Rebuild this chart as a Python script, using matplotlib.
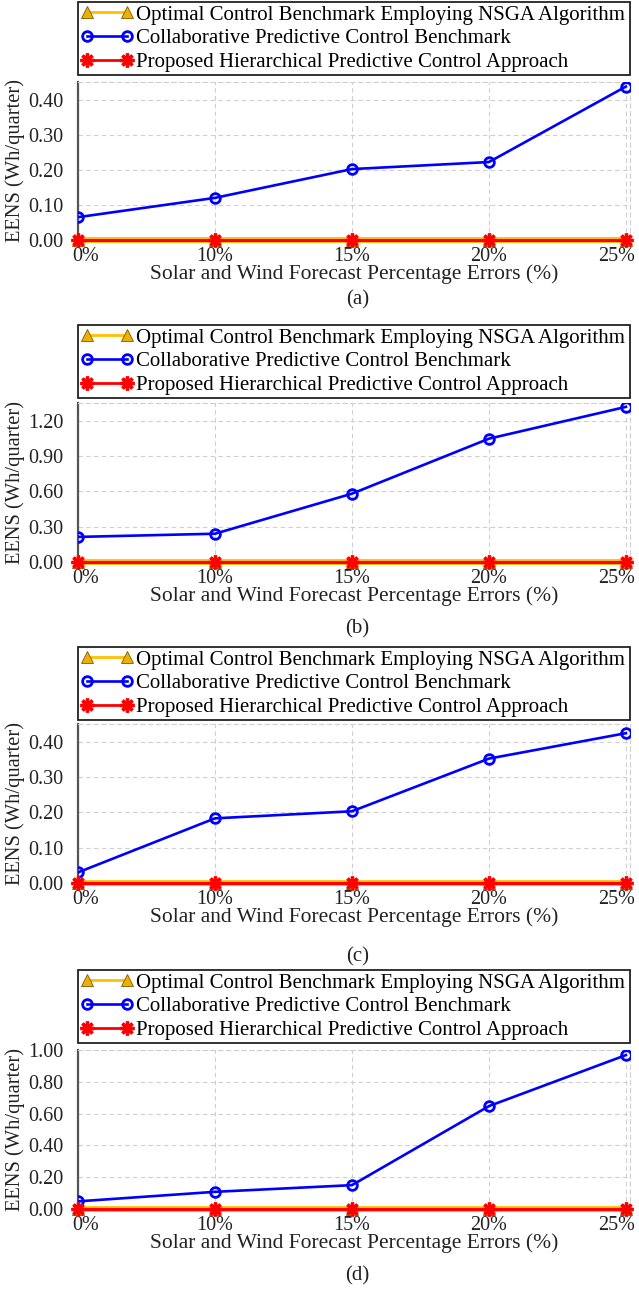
import matplotlib
matplotlib.use('Agg')
import matplotlib.pyplot as plt
import matplotlib.transforms as mtransforms
import numpy as np

plt.rcParams['font.family'] = ['Liberation Serif', 'DejaVu Serif']
plt.rcParams['mathtext.fontset'] = 'stix'

# forecast error levels on the x axis (equally spaced categories)
err_labels = ['0%', '10%', '15%', '20%', '25%']

# EENS of the collaborative predictive control benchmark, one list per case
collab_a = [0.065, 0.120, 0.202, 0.222, 0.437]
collab_b = [0.213, 0.240, 0.580, 1.047, 1.317]
collab_c = [0.030, 0.183, 0.203, 0.352, 0.424]
collab_d = [0.048, 0.108, 0.150, 0.647, 0.968]

# NSGA benchmark and proposed approach stay at zero in every case
nsga_a = [0.0, 0.0, 0.0, 0.0, 0.0]
nsga_b = [0.0, 0.0, 0.0, 0.0, 0.0]
nsga_c = [0.0, 0.0, 0.0, 0.0, 0.0]
nsga_d = [0.0, 0.0, 0.0, 0.0, 0.0]
prop_a = [0.0, 0.0, 0.0, 0.0, 0.0]
prop_b = [0.0, 0.0, 0.0, 0.0, 0.0]
prop_c = [0.0, 0.0, 0.0, 0.0, 0.0]
prop_d = [0.0, 0.0, 0.0, 0.0, 0.0]

# y-axis ticks per case
yticks_a = [0.0, 0.1, 0.2, 0.3, 0.4]
yticks_b = [0.0, 0.3, 0.6, 0.9, 1.2]
yticks_c = [0.0, 0.1, 0.2, 0.3, 0.4]
yticks_d = [0.0, 0.2, 0.4, 0.6, 0.8, 1.0]

captions = ['(a)', '(b)', '(c)', '(d)']

W, H = 639, 1289
fig = plt.figure(figsize=(W / 100, H / 100), dpi=100)

# pixel layout of each panel: axes top, axes bottom, legend top, caption y
panels = [
    (collab_a, nsga_a, prop_a, yticks_a, 0.45, 82, 240, 2, 300),
    (collab_b, nsga_b, prop_b, yticks_b, 1.35, 403, 562, 325, 629),
    (collab_c, nsga_c, prop_c, yticks_c, 0.45, 724, 883, 647, 957),
    (collab_d, nsga_d, prop_d, yticks_d, 1.00, 1050, 1209, 970, 1276),
]

left_px, right_px = 78, 630
x = np.arange(len(err_labels))

for (collab, nsga, prop, yt, ytop, top_px, bot_px, leg_top, cap_y), cap in zip(panels, captions):
    ax = fig.add_axes([left_px / W, 1 - bot_px / H,
                       (right_px - left_px) / W, (bot_px - top_px) / H])

    l1, = ax.plot(x, nsga, color='#FFC000', lw=4.2, marker='^', ms=9,
                  mfc='#F0B000', mec='#7a5a00', mew=0.6, zorder=3, clip_on=False,
                  label='Optimal Control Benchmark Employing NSGA Algorithm')
    l2, = ax.plot(x, collab, color='#0000FF', lw=1.9, marker='o', ms=7,
                  mfc='none', mec='#0000FF', mew=2.0, zorder=4,
                  label='Collaborative Predictive Control Benchmark')
    l3, = ax.plot(x, prop, color='#FF0000', lw=2.2, marker=(8, 2, 0), ms=10,
                  mec='#FF0000', mew=2.4, zorder=5, clip_on=False,
                  label='Proposed Hierarchical Predictive Control Approach')

    ax.set_xlim(0, 4.03)
    ax.set_ylim(0, ytop)
    ax.set_xticks(x)
    ax.set_xticklabels(err_labels)
    ax.set_yticks(yt)
    ax.set_yticklabels(['%.2f' % v for v in yt])
    ax.tick_params(axis='both', length=0, labelsize=14.5, colors='#222222')
    ax.tick_params(axis='x', pad=5)
    ax.tick_params(axis='y', pad=10.5)
    ax.grid(True, ls=(0, (4, 3)), color='#cfcfcf', lw=0.8)

    # nudge the end tick labels inwards so they stay inside the figure
    xtl = ax.get_xticklabels()
    xtl[0].set_transform(xtl[0].get_transform() +
                         mtransforms.ScaledTranslation(8 / 100, 0, fig.dpi_scale_trans))
    xtl[-1].set_transform(xtl[-1].get_transform() +
                          mtransforms.ScaledTranslation(-9 / 100, 0, fig.dpi_scale_trans))

    for s in ['top', 'right']:
        ax.spines[s].set_linestyle((0, (4, 3)))
        ax.spines[s].set_color('#cfcfcf')
        ax.spines[s].set_linewidth(0.8)
    ax.spines['left'].set_color('#555555')
    ax.spines['left'].set_linewidth(1.6)
    ax.spines['bottom'].set_color('#555555')

    ax.set_xlabel('Solar and Wind Forecast Percentage Errors (%)', fontsize=15.5,
                  color='#222222', labelpad=-1)
    ax.set_ylabel('EENS (Wh/quarter)', fontsize=14.8, color='#222222', va='center')
    ax.yaxis.set_label_coords((15 - left_px) / (right_px - left_px), 0.5)

    leg = ax.legend(handles=[l1, l2, l3], loc='upper left',
                    bbox_to_anchor=(left_px / W, 1 - leg_top / H, (right_px - left_px) / W, 0),
                    bbox_transform=fig.transFigure, mode='expand', numpoints=2,
                    fontsize=15, handlelength=2.5, handletextpad=0.15,
                    labelspacing=0.2, borderpad=0.15, borderaxespad=0,
                    fancybox=False, framealpha=1, edgecolor='#222222')
    leg.get_frame().set_linewidth(1.3)
    leg.get_lines()[0].set_linewidth(2.0)
    leg.get_lines()[2].set_linewidth(2.0)

    fig.text((left_px + right_px) / 2 / W + 0.005, 1 - cap_y / H, cap,
             fontsize=15, ha='center', va='center', color='#222222')

fig.savefig('out.png', dpi=100)
